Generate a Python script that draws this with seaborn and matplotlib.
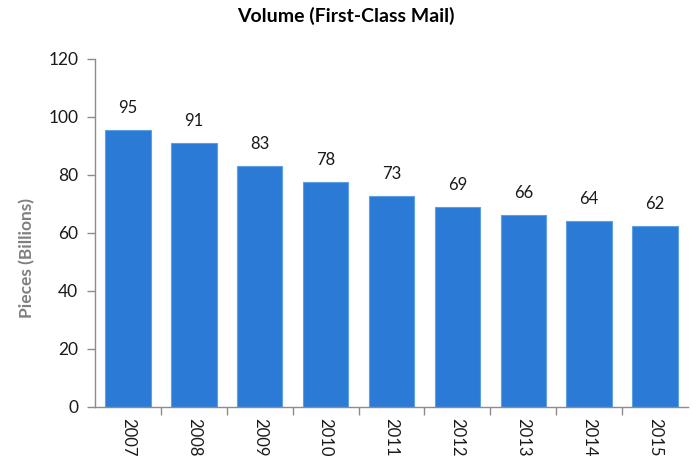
import matplotlib
matplotlib.use("Agg")
import matplotlib.pyplot as plt
import seaborn as sns
import pandas as pd

years = ["2007", "2008", "2009", "2010", "2011", "2012", "2013", "2014", "2015"]
volume = [95.4, 90.9, 83.1, 77.6, 72.6, 68.9, 66.2, 64.0, 62.4]
labels = ["95", "91", "83", "78", "73", "69", "66", "64", "62"]
yticks = [0, 20, 40, 60, 80, 100, 120]

sns.set_theme(style="white")
plt.rcParams['font.family'] = ['Lato', 'DejaVu Sans']

df = pd.DataFrame({"Year": years, "Volume": volume})

fig = plt.figure(figsize=(6.96, 4.63), dpi=100)
ax = fig.add_axes([0.1365, 0.121, 0.852, 0.752])

sns.barplot(data=df, x="Year", y="Volume", color="#2B7BD6", width=0.69,
            saturation=1, edgecolor="#5E9EE3", linewidth=0.8, ax=ax)

for i, (v, lab) in enumerate(zip(volume, labels)):
    ax.annotate(lab, (i, v), xytext=(0, 10), textcoords="offset points",
                ha="center", va="bottom", fontsize=12, color="#1a1a1a")

ax.set_ylim(0, 120)
ax.set_yticks(yticks)
ax.set_xlim(-0.5, len(years) - 0.5)
ax.set_xticks([i + 0.5 for i in range(len(years) - 1)], minor=False)
ax.set_xticklabels([])
ax.set_xticks(range(len(years)), minor=True)
ax.set_xticklabels(years, minor=True, rotation=-90, fontsize=12, color="#1a1a1a")
ax.tick_params(axis="x", which="major", direction="out", length=6, width=1, color="#8c8c8c", bottom=True)
ax.tick_params(axis="x", which="minor", length=0, pad=8, bottom=True)
ax.tick_params(axis="y", direction="out", length=6, width=1, color="#8c8c8c", left=True, labelsize=12.5, labelcolor="#1a1a1a", pad=6)

for s in ["top", "right"]:
    ax.spines[s].set_visible(False)
for s in ["left", "bottom"]:
    ax.spines[s].set_color("#8c8c8c")
    ax.spines[s].set_linewidth(1)

ax.set_xlabel("")
ax.set_ylabel("Pieces (Billions)", fontsize=12.5, fontweight="bold", color="#808080")
ax.yaxis.set_label_coords(-0.10, 0.428)
fig.suptitle("Volume (First-Class Mail)", x=0.497, y=0.985, fontsize=14, fontweight="bold", color="#000000")

fig.savefig("out.png", dpi=100)
